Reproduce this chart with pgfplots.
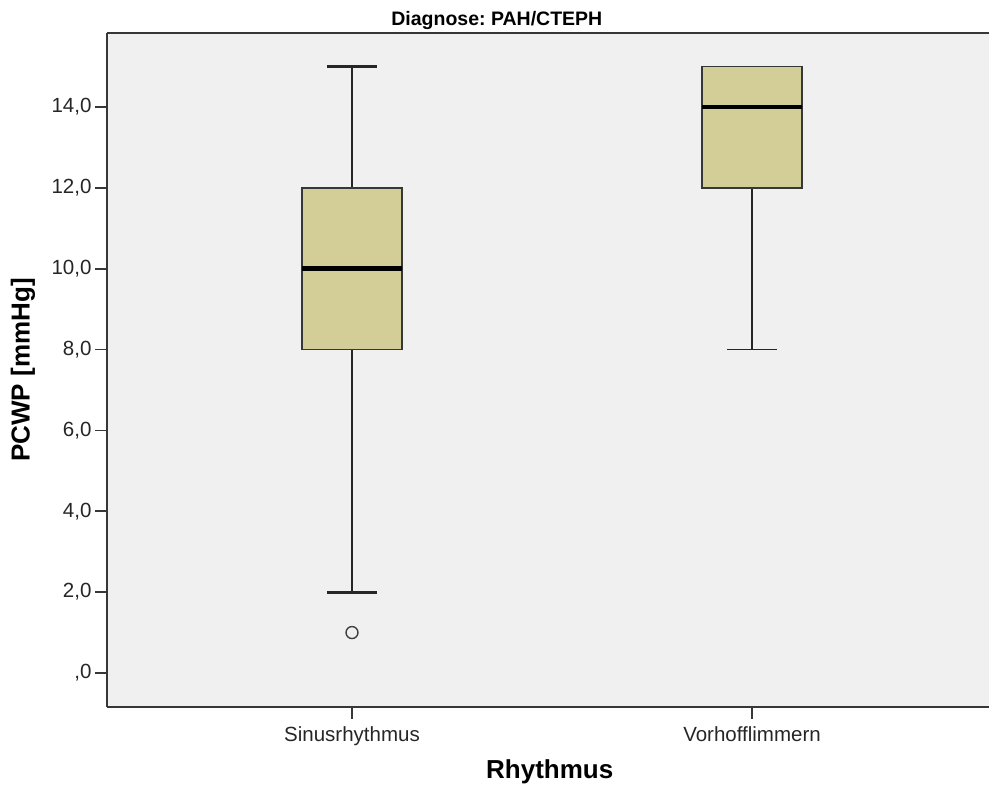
\documentclass[border=0pt]{standalone}
\usepackage{fontspec}
\setmainfont{Liberation Sans}
\usepackage{pgfplots}
\pgfplotsset{compat=1.18}
\usepgfplotslibrary{statistics}
\definecolor{boxfill}{RGB}{211,206,151}
\definecolor{bg}{RGB}{240,240,240}
\definecolor{axc}{RGB}{55,55,55}
\frenchspacing
\begin{document}
\begin{tikzpicture}
\path[use as bounding box] (-107pt,-80pt) rectangle (882pt,707pt);
\begin{axis}[
  scale only axis, width=882pt, height=674pt,
  xmin=0.3875, xmax=2.5925, ymin=-0.841, ymax=15.83,
  axis x line*=bottom, axis y line*=left,
  axis line style={draw=axc, line width=1.8pt, -},
  axis background/.style={fill=bg},
  xtick={1,2}, xticklabels={Sinusrhythmus, Vorhofflimmern},
  ytick={0,2,...,14},
  yticklabels={{,0},{2,0},{4,0},{6,0},{8,0},{10,0},{12,0},{14,0}},
  tick align=outside, major tick length=12pt,
  tick style={draw=axc, line width=1.8pt},
  tick label style={font=\fontsize{20.5}{24}\selectfont, text=black!85},
  xticklabel style={yshift=-4pt},
  xlabel={Rhythmus}, ylabel={PCWP [mmHg]},
  label style={font=\bfseries\fontsize{26}{30}\selectfont},
  xlabel style={at={(axis description cs:0.502,-0.106)}, anchor=base},
  ylabel style={at={(axis description cs:-0.0952,0.5)}, anchor=center},
  title={Diagnose: PAH/CTEPH},
  title style={at={(axis description cs:0.442,1)}, anchor=base, yshift=1.5pt, font=\bfseries\fontsize{19.5}{22}\selectfont},
  boxplot/draw direction=y,
  clip=false,
]
\addplot[boxplot prepared={draw position=1, lower whisker=2, lower quartile=8, median=10, upper quartile=12, upper whisker=15, box extend=0.25, whisker extend=0.125,
    every box/.style={draw=axc, line width=1.6pt, fill=boxfill},
    every median/.style={black, line width=4.5pt},
    every whisker/.style={black!85, line width=2.8pt}},
  mark=*, mark size=6pt, mark options={fill=bg, draw=black!75, line width=1.4pt}]
  table[row sep=\\, y index=0] {data\\ 1\\};
\addplot[boxplot prepared={draw position=2, lower whisker=8, lower quartile=12, median=14, upper quartile=15, upper whisker=15, box extend=0.25, whisker extend=0.125,
    every box/.style={draw=axc, line width=1.6pt, fill=boxfill},
    every median/.style={black, line width=4.5pt},
    every whisker/.style={black!85, line width=1.8pt}}]
  coordinates {};
\draw[axc, line width=1.8pt] (rel axis cs:0,1) -- (rel axis cs:1,1);
\end{axis}
\end{tikzpicture}
\end{document}
